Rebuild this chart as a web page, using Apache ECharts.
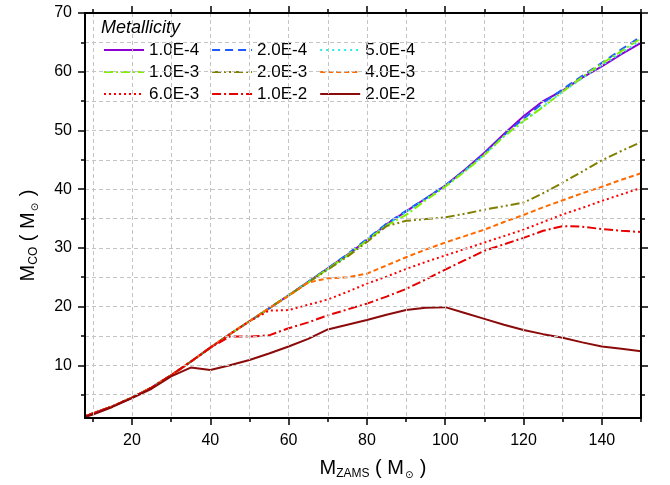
<!DOCTYPE html>
<html>
<head>
<meta charset="utf-8">
<script src="https://cdn.jsdelivr.net/npm/echarts@6/dist/echarts.min.js"></script>
<style>
html,body{margin:0;padding:0;background:#fff;}
#chart{width:670px;height:485px;}
</style>
</head>
<body>
<div id="chart"></div>
<script>
// ---------- data ----------
const massGrid = [8,10,15,20,25,30,35,40,45,50,55,60,65,70,75,80,85,90,95,100,105,110,115,120,125,130,135,140,145,150];

const z1e4 = [1.3,1.8,3.0,4.5,6.2,8.3,10.6,13.0,15.3,17.5,19.7,21.9,24.2,26.5,28.8,31.3,34.0,36.2,38.4,40.6,43.3,46.2,49.4,52.4,55.0,56.8,59.0,60.9,63.0,64.9];
const z2e4 = [1.3,1.8,3.0,4.5,6.2,8.3,10.6,13.0,15.3,17.5,19.7,21.9,24.2,26.5,28.9,31.5,34.1,36.3,38.4,40.6,43.2,46.0,49.2,52.0,54.7,57.0,59.3,61.5,63.8,66.0];
const z5e4 = [1.3,1.8,3.0,4.5,6.2,8.3,10.6,13.0,15.3,17.5,19.7,21.9,24.2,26.4,28.7,31.3,33.9,36.1,38.3,40.5,43.1,45.9,49.0,51.5,54.1,56.6,58.9,61.1,63.2,65.3];
const z1e3 = [1.3,1.8,3.0,4.5,6.2,8.3,10.6,13.0,15.3,17.5,19.7,21.9,24.1,26.4,28.7,31.2,33.8,35.6,38.1,40.4,43.0,45.8,49.0,51.6,54.0,56.6,59.1,61.4,63.5,65.7];
const z2e3 = [1.3,1.8,3.0,4.5,6.2,8.3,10.6,13.0,15.3,17.5,19.7,21.9,24.1,26.3,28.5,31.0,33.7,34.6,34.9,35.2,35.8,36.5,37.1,37.7,39.3,41.1,43.0,44.9,46.5,48.0];
const z4e3 = [1.3,1.8,3.0,4.5,6.2,8.3,10.6,13.0,15.3,17.5,19.7,21.8,24.1,24.8,25.0,25.6,27.0,28.4,29.7,30.9,32.0,33.1,34.4,35.6,36.9,38.1,39.3,40.4,41.6,42.7];
const z6e3 = [1.3,1.8,3.0,4.5,6.2,8.3,10.6,13.0,15.3,17.5,19.3,19.4,20.3,21.2,22.5,23.9,25.1,26.4,27.6,28.7,29.8,30.9,32.0,33.1,34.4,35.7,36.8,38.0,39.1,40.2];
const z1e2 = [1.3,1.8,3.0,4.5,6.2,8.3,10.6,13.0,14.9,14.9,15.1,16.3,17.3,18.5,19.5,20.5,21.7,23.0,24.6,26.3,27.9,29.5,30.6,31.7,32.9,33.7,33.6,33.2,32.9,32.7];
const z2e2 = [1.2,1.6,2.9,4.4,6.0,8.1,9.6,9.2,10.0,10.9,12.0,13.2,14.5,16.1,16.9,17.7,18.6,19.4,19.8,19.9,18.9,17.9,16.9,16.0,15.3,14.7,13.9,13.2,12.8,12.4];

const seriesNames = ['1.0E-4','2.0E-4','5.0E-4','1.0E-3','2.0E-3','4.0E-3','6.0E-3','1.0E-2','2.0E-2'];
const seriesValues = [z1e4,z2e4,z5e4,z1e3,z2e3,z4e3,z6e3,z1e2,z2e2];

const xMin = 8, xMax = 150, yMin = 1, yMax = 70;
const xMinorTicks = [10,20,30,40,50,60,70,80,90,100,110,120,130,140,150];
const xMajorTicks = [20,40,60,80,100,120,140];
const yMinorTicks = [5,10,15,20,25,30,35,40,45,50,55,60,65,70];
const yMajorTicks = [10,20,30,40,50,60,70];

// ---------- styles ----------
const FONT = '"Liberation Sans", Arial, sans-serif';
const styles = [
  {color:'#8C00D4', type:'solid'},
  {color:'#1E5AFF', type:[8,5]},
  {color:'#22EEDD', type:[2,4]},
  {color:'#80F000', type:[9,3,2,3]},
  {color:'#808000', type:[9,3,2,3,2,3]},
  {color:'#FF6A00', type:[5,3]},
  {color:'#FF0000', type:[2,3]},
  {color:'#E60000', type:[9,3,2,3]},
  {color:'#8B0A0A', type:'solid'}
];

const series = seriesNames.map((n,i)=>({
  name:n, type:'line', xAxisIndex:0, yAxisIndex:0,
  symbol:'none', smooth:false,
  data: massGrid.map((m,j)=>[m, seriesValues[i][j]]),
  lineStyle:{color:styles[i].color, type:styles[i].type, width:2},
  itemStyle:{color:styles[i].color},
  emphasis:{disabled:true},
  z: 3
}));

const axisLineStyle = {color:'#000', width:2};
const tickStyle = {color:'#000', width:1.5};

function xAx(pos, ticks, len, primary){
  return {
    type:'value', position:pos, min:xMin, max:xMax, minInterval:10, maxInterval:10,
    axisLine:{show:primary, onZero:false, lineStyle:axisLineStyle},
    axisTick:{show:true, customValues:ticks, length:len, lineStyle:tickStyle},
    axisLabel:{show: primary && pos==='bottom', customValues:xMajorTicks, margin:14, fontSize:16, color:'#000', fontFamily:FONT},
    splitLine:{show: primary && pos==='bottom', lineStyle:{type:[4,3], color:'#c4c4c4', width:1}},
    z: 5
  };
}
function yAx(pos, ticks, len, primary){
  return {
    type:'value', position:pos, min:yMin, max:yMax, minInterval:5, maxInterval:5,
    axisLine:{show:primary, onZero:false, lineStyle:axisLineStyle},
    axisTick:{show:true, customValues:ticks, length:len, lineStyle:tickStyle},
    axisLabel:{show: primary && pos==='left', customValues:yMajorTicks, margin:13, fontSize:16, color:'#000', fontFamily:FONT},
    splitLine:{show: primary && pos==='left', lineStyle:{type:[4,3], color:'#c4c4c4', width:1}},
    z: 5
  };
}

const xAxes = [xAx('bottom', xMinorTicks, 4, true), xAx('bottom', xMajorTicks, 7, false), xAx('top', xMinorTicks, 4, true), xAx('top', xMajorTicks, 7, false)];
const yAxes = [yAx('left', yMinorTicks, 4, true), yAx('left', yMajorTicks, 7, false), yAx('right', yMinorTicks, 4, true), yAx('right', yMajorTicks, 7, false)];

const nameRich = {
  m:{fontSize:20, fontFamily:FONT, color:'#000', lineHeight:22, verticalAlign:'top'},
  s:{fontSize:12, fontFamily:FONT, color:'#000', lineHeight:12, padding:[15,0,0,0], verticalAlign:'bottom'},
  o:{fontSize:10, fontFamily:'"DejaVu Sans", sans-serif', color:'#000', lineHeight:10, padding:[16,1,0,1], verticalAlign:'bottom'}
};
xAxes[0].name = '{m|M}{s|ZAMS}{m| ( M}{o|⊙}{m| )}';
xAxes[0].nameLocation = 'middle';
xAxes[0].nameGap = 33;
xAxes[0].nameTextStyle = {rich:nameRich, padding:[0,0,0,20]};
yAxes[0].name = '{m|M}{s|CO}{m| ( M}{o|⊙}{m| )}';
yAxes[0].nameLocation = 'middle';
yAxes[0].nameGap = 45;
yAxes[0].nameTextStyle = {rich:nameRich, padding:[0,40,0,0]};

function legendRow(names, top){
  return {
    data:names, left:103, top:top, orient:'horizontal', padding:0,
    itemWidth:40, itemHeight:14, itemGap:12, selectedMode:false,
    itemStyle:{opacity:0},
    textStyle:{fontSize:17, color:'#000', fontFamily:FONT, lineHeight:18}
  };
}

const option = {
  animation:false,
  backgroundColor:'#fff',
  title:{text:'Metallicity', left:101, top:19, padding:0,
    textStyle:{fontSize:18, fontStyle:'italic', fontWeight:'normal', color:'#000', fontFamily:FONT}},
  legend:[
    legendRow(seriesNames.slice(0,3), 41),
    legendRow(seriesNames.slice(3,6), 63),
    legendRow(seriesNames.slice(6,9), 85)
  ],
  grid:{left:85, right:29, top:13, bottom:63, containLabel:false},
  xAxis:xAxes,
  yAxis:yAxes,
  series:series
};

const chart = echarts.init(document.getElementById('chart'), null, {renderer:'canvas'});
chart.setOption(option);
</script>
</body>
</html>
